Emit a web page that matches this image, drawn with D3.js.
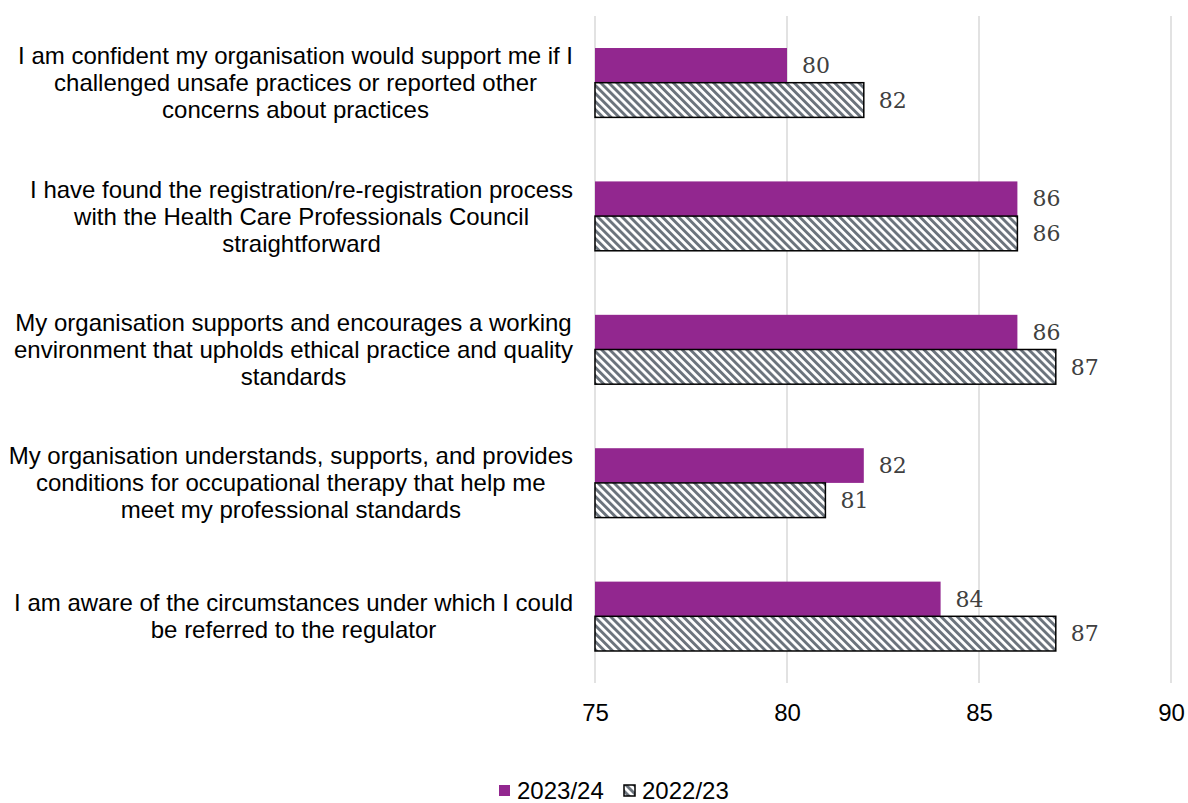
<!DOCTYPE html>
<html>
<head>
<meta charset="utf-8">
<script src="https://cdn.jsdelivr.net/npm/d3@7"></script>
<style>
  html, body { margin: 0; padding: 0; background: #fff; }
  svg { display: block; }
</style>
</head>
<body>
<svg id="chart" width="1188" height="803"></svg>
<script>
// Survey statements (top to bottom) and percentage agreeing per year
const categories = [
  "I am confident my organisation would support me if I|challenged unsafe practices or reported other|concerns about practices",
  "I have found the registration/re-registration process|with the Health Care Professionals Council|straightforward",
  "My organisation supports and encourages a working|environment that upholds ethical practice and quality|standards",
  "My organisation understands, supports, and provides|conditions for occupational therapy that help me|meet my professional standards",
  "I am aware of the circumstances under which I could|be referred to the regulator"
];
const seriesNames = ["2023/24", "2022/23"];
const values2324 = [80, 86, 86, 82, 84];
const values2223 = [82, 86, 87, 81, 87];
const xTicks = [75, 80, 85, 90];

const svg = d3.select("#chart");
const plotLeft = 595, plotRight = 1171, plotTop = 16, plotBottom = 683;
const sansFont = "Liberation Sans, Arial, sans-serif";
const sansSize = 24;

const x = d3.scaleLinear().domain([75, 90]).range([plotLeft, plotRight]);
const y = d3.scaleBand().domain(d3.range(categories.length)).range([plotTop, plotBottom]).paddingInner(0.48).paddingOuter(0.24);
const ySub = d3.scaleBand().domain([0, 1]).range([0, y.bandwidth()]);

// Hatch pattern for the previous year
const defs = svg.append("defs");
const pat = defs.append("pattern")
  .attr("id", "hatch").attr("patternUnits", "userSpaceOnUse")
  .attr("width", 5.7).attr("height", 5.7)
  .attr("patternTransform", "rotate(-45)");
pat.append("rect").attr("width", 5.7).attr("height", 5.7).attr("fill", "#fff");
pat.append("rect").attr("width", 2.9).attr("height", 5.7).attr("fill", "#6b737c");

// Gridlines
svg.append("g").selectAll("line").data(xTicks).join("line")
  .attr("x1", d => x(d)).attr("x2", d => x(d))
  .attr("y1", plotTop).attr("y2", plotBottom)
  .attr("stroke", "#d9d9d9").attr("stroke-width", 1.5);

// Tick labels
const xAxis = svg.append("g").attr("transform", `translate(0,${plotBottom})`)
  .call(d3.axisBottom(x).tickValues(xTicks).tickSize(0).tickPadding(0));
xAxis.select(".domain").remove();
xAxis.selectAll("text").attr("font-family", sansFont)
  .attr("font-size", sansSize).attr("fill", "#000")
  .attr("y", 30).attr("dy", "0.35em");

const series = [
  { name: seriesNames[0], vals: values2324, fill: "#92278f", stroke: "none" },
  { name: seriesNames[1], vals: values2223, fill: "url(#hatch)", stroke: "#000" }
];

series.forEach((s, si) => {
  const g = svg.append("g");
  g.selectAll("rect").data(s.vals).join("rect")
    .attr("x", x(75))
    .attr("y", (d, i) => y(i) + ySub(si))
    .attr("width", d => x(d) - x(75))
    .attr("height", ySub.bandwidth())
    .attr("fill", s.fill)
    .attr("stroke", s.stroke)
    .attr("stroke-width", 1.5);
  g.selectAll("text").data(s.vals).join("text")
    .attr("x", d => x(d) + 15)
    .attr("y", (d, i) => y(i) + ySub(si) + ySub.bandwidth() / 2)
    .attr("dy", "0.35em")
    .attr("font-family", "DejaVu Serif, Liberation Serif, serif")
    .attr("font-size", 22)
    .attr("fill", "#404040")
    .text(d => d);
});

// Category labels: multi-line, centered, widest line ending at x=573
const labelG = svg.append("g");
categories.forEach((c, i) => {
  const lines = c.split("|");
  const t = labelG.append("text")
    .attr("font-family", sansFont)
    .attr("font-size", sansSize).attr("fill", "#000")
    .attr("text-anchor", "middle");
  const lh = 27;
  const cy = y(i) + y.bandwidth() / 2;
  const y0 = cy - (lines.length - 1) * lh / 2;
  lines.forEach((l, j) => {
    t.append("tspan").attr("y", y0 + j * lh).attr("dy", "0.35em").text(l);
  });
  let maxW = 0;
  t.selectAll("tspan").each(function() { maxW = Math.max(maxW, this.getComputedTextLength()); });
  t.selectAll("tspan").attr("x", 573 - maxW / 2);
});

// Legend
const legend = svg.append("g").attr("font-family", sansFont).attr("font-size", sansSize);
const lg1 = legend.append("g").attr("transform", "translate(499,785)");
lg1.append("rect").attr("width", 11).attr("height", 11).attr("fill", "#92278f");
lg1.append("text").attr("x", 18).attr("y", 6).attr("dy", "0.35em").text(seriesNames[0]);
const lg2 = legend.append("g").attr("transform", "translate(624,785)");
lg2.append("rect").attr("width", 11).attr("height", 11).attr("fill", "url(#hatch)").attr("stroke", "#000").attr("stroke-width", 1.5);
lg2.append("text").attr("x", 18).attr("y", 6).attr("dy", "0.35em").text(seriesNames[1]);
</script>
</body>
</html>
